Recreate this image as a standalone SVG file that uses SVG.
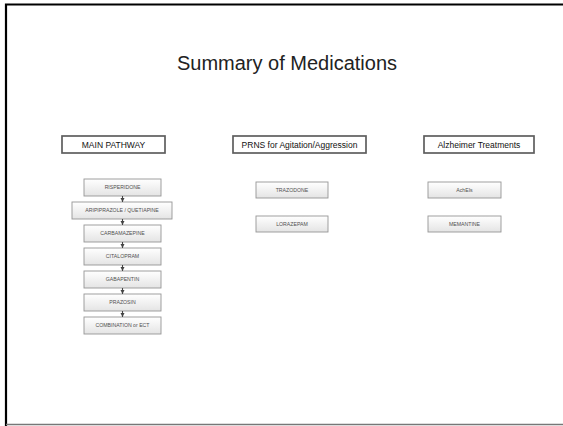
<svg xmlns="http://www.w3.org/2000/svg" width="563" height="426" viewBox="0 0 563 426">
<style>
.title{font-family:"Liberation Sans",Arial,sans-serif;font-size:20px;fill:#222}
.hbox{fill:#fff;stroke:#5e5e5e;stroke-width:1.7}
.htext{font-family:"Liberation Sans",Arial,sans-serif;font-size:8.5px;fill:#111;text-anchor:middle}
.mbox{fill:url(#g);stroke:#959595;stroke-width:0.9}
.mtext{font-family:"Liberation Sans",Arial,sans-serif;font-size:5.2px;fill:#505050;text-anchor:middle}
.conn{stroke:#444;stroke-width:1.1;fill:none}
</style>
<defs>
<linearGradient id="g" x1="0" y1="0" x2="0" y2="1">
<stop offset="0" stop-color="#ffffff"/>
<stop offset="1" stop-color="#e4e4e4"/>
</linearGradient>
<marker id="ah" viewBox="0 0 10 10" refX="10" refY="5" markerWidth="3.6" markerHeight="4.5" orient="auto" markerUnits="strokeWidth">
<path d="M0,0 L10,5 L0,10 z" fill="#444"/>
</marker>
</defs>
<rect x="0" y="0" width="563" height="426" fill="#fff"/>
<path d="M6,426 V4.5 H563" fill="none" stroke="#000" stroke-width="2.2"/>
<line x1="6" y1="424.5" x2="563" y2="424.5" stroke="#777" stroke-width="1.5"/>
<g id="title"><text class="title" x="287" y="70" text-anchor="middle">Summary of Medications</text></g>

<g id="h-main"><rect class="hbox" x="62" y="136" width="103" height="17"/><text class="htext" x="113.5" y="147.5">MAIN PATHWAY</text></g>
<g id="h-prns"><rect class="hbox" x="233" y="136" width="133" height="17"/><text class="htext" x="299.5" y="147.5">PRNS for Agitation/Aggression</text></g>
<g id="h-alz"><rect class="hbox" x="424" y="136" width="110" height="17"/><text class="htext" x="479" y="147.5">Alzheimer Treatments</text></g>

<g id="risperidone"><rect class="mbox" x="84" y="179" width="77" height="17"/><text class="mtext" x="122.5" y="189.3">RISPERIDONE</text></g>
<g id="aripiprazole"><rect class="mbox" x="72" y="202" width="100" height="17"/><text class="mtext" x="122" y="212.3">ARIPIPRAZOLE / QUETIAPINE</text></g>
<g id="carbamazepine"><rect class="mbox" x="84" y="225" width="77" height="17"/><text class="mtext" x="122.5" y="235.3">CARBAMAZEPINE</text></g>
<g id="citalopram"><rect class="mbox" x="84" y="248" width="77" height="17"/><text class="mtext" x="122.5" y="258.3">CITALOPRAM</text></g>
<g id="gabapentin"><rect class="mbox" x="84" y="271" width="77" height="17"/><text class="mtext" x="122.5" y="281.3">GABAPENTIN</text></g>
<g id="prazosin"><rect class="mbox" x="84" y="294" width="77" height="17"/><text class="mtext" x="122.5" y="304.3">PRAZOSIN</text></g>
<g id="combination"><rect class="mbox" x="84" y="317" width="77" height="17"/><text class="mtext" x="122.5" y="327.3">COMBINATION or ECT</text></g>

<g id="trazodone"><rect class="mbox" x="256" y="182" width="72" height="16"/><text class="mtext" x="292" y="191.8">TRAZODONE</text></g>
<g id="lorazepam"><rect class="mbox" x="256" y="216" width="72" height="16"/><text class="mtext" x="292" y="225.8">LORAZEPAM</text></g>
<g id="acheis"><rect class="mbox" x="428" y="182" width="73" height="16"/><text class="mtext" x="464.5" y="191.8">AchEIs</text></g>
<g id="memantine"><rect class="mbox" x="428" y="216" width="73" height="16"/><text class="mtext" x="464.5" y="225.8">MEMANTINE</text></g>

<g id="connectors">
<line class="conn" x1="122.5" y1="196" x2="122.5" y2="202" marker-end="url(#ah)"/>
<line class="conn" x1="122.5" y1="219" x2="122.5" y2="225" marker-end="url(#ah)"/>
<line class="conn" x1="122.5" y1="242" x2="122.5" y2="248" marker-end="url(#ah)"/>
<line class="conn" x1="122.5" y1="265" x2="122.5" y2="271" marker-end="url(#ah)"/>
<line class="conn" x1="122.5" y1="288" x2="122.5" y2="294" marker-end="url(#ah)"/>
<line class="conn" x1="122.5" y1="311" x2="122.5" y2="317" marker-end="url(#ah)"/>
</g>
</svg>
